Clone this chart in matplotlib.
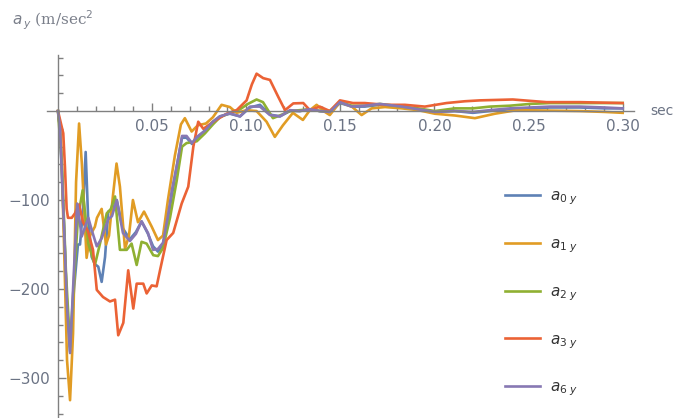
import matplotlib
matplotlib.use("Agg")
import matplotlib.pyplot as plt
from matplotlib.ticker import FixedLocator

# time samples (sec) and lateral acceleration (m/sec^2) for each sensor
t_a0 = [0.000, 0.0011, 0.0032, 0.0048, 0.0064, 0.0085, 0.0106, 0.0117, 0.0133, 0.0147,
        0.0160, 0.0179, 0.0196, 0.0214, 0.0232, 0.0250, 0.0267, 0.0287, 0.0312, 0.0345,
        0.0382, 0.0414, 0.0444, 0.0478, 0.0505, 0.0531, 0.0558, 0.0584, 0.0612, 0.0637,
        0.0659, 0.0683, 0.0712, 0.0738, 0.0781, 0.0823, 0.0860, 0.0913, 0.0967, 0.1020,
        0.1073, 0.1126, 0.1179, 0.1232, 0.1285, 0.1338, 0.1391, 0.1444, 0.1498, 0.1561,
        0.1630, 0.1710, 0.1827, 0.1913, 0.2002, 0.2108, 0.2204, 0.2294, 0.2400, 0.2507,
        0.2613, 0.2772, 0.2905, 0.3000]
y_a0 = [0, -20, -130, -220, -270, -200, -150, -150, -110, -46,
        -120, -164, -172, -175, -192, -164, -113, -112, -100, -132,
        -144, -136, -124, -138, -152, -158, -150, -120, -86, -55,
        -30, -30, -37, -30, -22, -12, -6, -3, -6, 4,
        7, -4, -6, 0, 0, 2, 0, -1, 9, 5,
        5, 7, 4, 2, -1, 0, -2, 0, 2, 3,
        4, 4, 3, 3]

t_a1 = [0.000, 0.0016, 0.0032, 0.0048, 0.0064, 0.0080, 0.0096, 0.0112, 0.0127, 0.0152,
        0.0170, 0.0196, 0.0207, 0.0232, 0.0255, 0.0271, 0.0292, 0.0311, 0.0329, 0.0356,
        0.0377, 0.0398, 0.0425, 0.0457, 0.0498, 0.0531, 0.0558, 0.0584, 0.0621, 0.0653,
        0.0674, 0.0710, 0.0743, 0.0786, 0.0823, 0.0869, 0.0913, 0.0949, 0.1002, 0.1055,
        0.1108, 0.1152, 0.1195, 0.1248, 0.1301, 0.1338, 0.1374, 0.1418, 0.1444, 0.1498,
        0.1561, 0.1613, 0.1666, 0.1737, 0.1827, 0.1913, 0.2002, 0.2108, 0.2215, 0.2321,
        0.2436, 0.2613, 0.2772, 0.2905, 0.3000]
y_a1 = [0, -30, -150, -280, -325, -250, -80, -14, -60, -165,
        -140, -130, -120, -110, -150, -140, -95, -59, -85, -155,
        -140, -100, -125, -113, -130, -145, -140, -100, -50, -15,
        -8, -23, -16, -14, -7, 7, 4.5, -2, 1, 0,
        -12, -29, -16, -2, -10, 1, 7, -1, -4.5, 10,
        5, -4.5, 3, 4.5, 3, 1, -3, -5, -8, -3,
        1, 0.5, 0, -1, -2]

t_a2 = [0.000, 0.0021, 0.0042, 0.0064, 0.0085, 0.0106, 0.0131, 0.0161, 0.0196, 0.0223,
        0.0259, 0.0281, 0.0303, 0.0329, 0.0365, 0.0391, 0.0418, 0.0444, 0.0471, 0.0506,
        0.0531, 0.0558, 0.0595, 0.0630, 0.0659, 0.0683, 0.0737, 0.0781, 0.0823, 0.0860,
        0.0913, 0.0967, 0.1009, 0.1055, 0.1089, 0.1142, 0.1190, 0.1232, 0.1285, 0.1338,
        0.1391, 0.1444, 0.1498, 0.1561, 0.1630, 0.1710, 0.1827, 0.1913, 0.2002, 0.2108,
        0.2204, 0.2294, 0.2400, 0.2507, 0.2613, 0.2772, 0.2905, 0.3000]
y_a2 = [0, -60, -180, -265, -190, -120, -89, -149, -173, -149,
        -115, -110, -96, -156, -156, -149, -173, -147, -149, -162,
        -163, -154, -120, -79, -40, -36, -34, -25, -15, -7,
        -2, 2, 8, 13, 10, -8, -4, 0, 1, 2,
        0, 0, 10, 6, 6, 8, 5, 3, 0, 3,
        3, 5, 6, 8, 9, 9, 9, 9]

t_a3 = [0.000, 0.0028, 0.0037, 0.0046, 0.0053, 0.0073, 0.0090, 0.0112, 0.0133, 0.0159,
        0.0186, 0.0206, 0.0239, 0.0276, 0.0303, 0.0320, 0.0347, 0.0373, 0.0400, 0.0418,
        0.0453, 0.0471, 0.0498, 0.0524, 0.0542, 0.0577, 0.0612, 0.0657, 0.0692, 0.0719,
        0.0745, 0.0772, 0.0825, 0.0896, 0.0949, 0.1002, 0.1030, 0.1055, 0.1090, 0.1126,
        0.1170, 0.1206, 0.1250, 0.1303, 0.1338, 0.1391, 0.1444, 0.1498, 0.1567, 0.1630,
        0.1737, 0.1843, 0.1949, 0.2064, 0.2161, 0.2241, 0.2416, 0.2595, 0.2772, 0.3000]
y_a3 = [0, -25, -63, -110, -120, -120, -115, -105, -125, -135,
        -156, -201, -209, -214, -212, -252, -238, -179, -222, -194,
        -194, -205, -196, -197, -179, -145, -137, -104, -85, -40,
        -12, -20, -12, -3, 1, 12, 30, 42, 37, 35,
        16, 1, 8.6, 9, 1, 5, 0, 12, 9, 9,
        7, 7, 5, 9, 11, 12, 13, 10, 10, 9]

t_a6 = [0.000, 0.0011, 0.0032, 0.0048, 0.0064, 0.0080, 0.0102, 0.0126, 0.0161, 0.0181,
        0.0206, 0.0232, 0.0266, 0.0287, 0.0312, 0.0345, 0.0382, 0.0414, 0.0444, 0.0478,
        0.0505, 0.0531, 0.0558, 0.0584, 0.0605, 0.0637, 0.0659, 0.0683, 0.0712, 0.0738,
        0.0781, 0.0823, 0.0860, 0.0913, 0.0967, 0.1020, 0.1073, 0.1126, 0.1179, 0.1232,
        0.1285, 0.1338, 0.1391, 0.1444, 0.1498, 0.1561, 0.1630, 0.1710, 0.1827, 0.1913,
        0.2002, 0.2108, 0.2204, 0.2294, 0.2400, 0.2507, 0.2613, 0.2772, 0.2905, 0.3000]
y_a6 = [0, -20, -130, -220, -272, -200, -104, -141, -120, -135,
        -152, -143, -122, -118, -100, -137, -146, -138, -124, -137,
        -156, -155, -148, -118, -89, -55, -28, -28, -36, -29,
        -22, -12, -6, -2.5, -6, 5, 5, -4.5, -6, 1,
        0, 2, 0, -1, 10, 5, 6, 8, 5, 2,
        -1, 0, -1, 1, 3, 4, 5, 5, 4, 3]

series = [
    (t_a0, y_a0, "#5E81B5", r"$a_{0\ y}$"),
    (t_a1, y_a1, "#E19C24", r"$a_{1\ y}$"),
    (t_a2, y_a2, "#8FB032", r"$a_{2\ y}$"),
    (t_a3, y_a3, "#EB6235", r"$a_{3\ y}$"),
    (t_a6, y_a6, "#8778B3", r"$a_{6\ y}$"),
]

x_major = [0.05, 0.10, 0.15, 0.20, 0.25, 0.30]
x_labels = ["0.05", "0.10", "0.15", "0.20", "0.25", "0.30"]
y_major = [-300, -200, -100]
y_labels = ["\u2212300", "\u2212200", "\u2212100"]

axis_col = "#808080"
tick_text_col = "#6b7384"

fig = plt.figure(figsize=(6.74, 4.18), dpi=100)
ax = fig.add_axes([46.7 / 674, 0.0, 587.3 / 674, 363 / 418])

for t, y, col, lab in series:
    ax.plot(t, y, color=col, lw=1.9, label=lab, solid_joinstyle="round")

ax.set_xlim(-0.006, 0.306)
ax.set_ylim(-345, 63)

for side in ("top", "right"):
    ax.spines[side].set_visible(False)
ax.spines["left"].set_position(("data", 0))
ax.spines["bottom"].set_position(("data", 0))
for side in ("left", "bottom"):
    ax.spines[side].set_color(axis_col)
    ax.spines[side].set_linewidth(1.0)

ax.xaxis.set_major_locator(FixedLocator(x_major))
ax.set_xticklabels(x_labels)
ax.xaxis.set_minor_locator(FixedLocator([i / 100 for i in range(1, 31) if i % 5]))
ax.yaxis.set_major_locator(FixedLocator(y_major))
ax.set_yticklabels(y_labels)
ax.yaxis.set_minor_locator(FixedLocator([v for v in range(-340, 61, 20) if v % 100]))

ax.tick_params(which="both", direction="in", color=axis_col, width=1.0)
ax.tick_params(which="major", length=6, labelsize=11, labelcolor=tick_text_col, pad=6)
ax.tick_params(which="minor", length=3.5)

fig.text(650 / 674, 1 - 111 / 418, "sec", fontsize=10, color=tick_text_col,
         ha="left", va="center")
fig.text(12 / 674, 1 - 20 / 418, r"$a_{\,y}$" + " (m/sec$^2$", fontsize=11,
         color="#7a7f8a", ha="left", va="center", family="DejaVu Serif")

leg = ax.legend(loc="upper left", bbox_to_anchor=(497 / 674, 1 - 181 / 418),
                bbox_transform=fig.transFigure, frameon=False, fontsize=11,
                labelspacing=1.9, handlelength=2.3, handletextpad=0.7,
                borderpad=0.0)
for txt in leg.get_texts():
    txt.set_color("#333333")

fig.savefig("out.png", dpi=100)
